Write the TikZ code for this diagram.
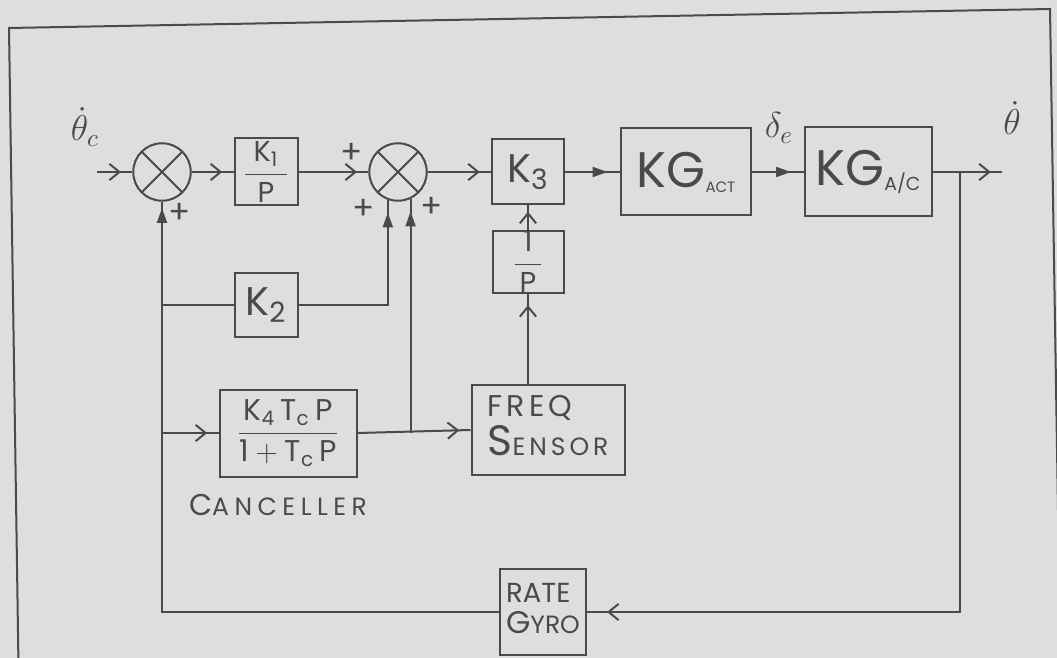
\documentclass[tikz,border=0pt]{standalone}
\usepackage{fontspec}
\setmainfont{Poppins}
\usetikzlibrary{arrows.meta,decorations.markings}
\definecolor{ink}{HTML}{4A4A4A}
\definecolor{paper}{HTML}{DEDEDE}
\begin{document}
\begin{tikzpicture}[x=0.4pt,y=-0.4pt,line width=.8pt,color=ink,
  blk/.style={draw,inner sep=0pt},
  sum/.style={circle,draw,minimum size=23pt,inner sep=0pt,
    path picture={\draw (path picture bounding box.north west) -- (path picture bounding box.south east)
      (path picture bounding box.north east) -- (path picture bounding box.south west);}},
  flow/.style={postaction={decorate},decoration={markings,
    mark=at position #1 with {\arrow{Straight Barb[length=4pt,width=6.5pt,line width=.8pt]}}}},
  flow/.default=-4.5pt,
  feed/.style={postaction={decorate},decoration={markings,
    mark=at position #1 with {\arrow{Triangle[length=6pt,width=4pt]}}}},
  feed/.default=-5pt,
  sgn/.style={inner sep=0pt,font=\fontsize{13}{13}\selectfont},
  sig/.style={inner sep=0pt,font=\fontsize{14}{14}\selectfont},
  lbl/.style={inner sep=0pt,align=left,font=\addfontfeature{LetterSpace=22}}]
\useasboundingbox (0,0) rectangle (1057,658);
\fill[paper] (0,0) rectangle (1057,658);
% sheet frame
\draw (19,700) -- (9,28) -- (1050,9) -- (1061,700);
% forward path
\coordinate (in) at (97,172);
\node[sum] (s1) at (162,172) {};
\node[blk,minimum width=25.2pt,minimum height=26.8pt,font=\fontsize{11.5}{12}\selectfont] (k1) at (266,172) {$\displaystyle\frac{\;\mathrm{K_1}\;}{\mathrm{P}}$};
\node[sum] (s2) at (398,172) {};
\node[blk,minimum width=28.8pt,minimum height=26pt,font=\fontsize{16}{18}\selectfont] (k3) at (528,172) {$\mathrm{K_3}$};
\node[blk,minimum width=52pt,minimum height=34.8pt,font=\fontsize{20}{22}\selectfont] (act) at (686,172) {KG\raisebox{-2pt}{\fontsize{6}{6}\selectfont ACT}};
\node[blk,minimum width=50.8pt,minimum height=35.6pt,font=\fontsize{20}{22}\selectfont] (ac) at (868,172) {KG\raisebox{-2pt}{\fontsize{7.5}{8}\selectfont A/C}};
\coordinate (br) at (960,172);
\coordinate (out) at (1002,172);
% inner loops
\node[blk,minimum width=28.4pt,minimum height=24.4pt,font=\fontsize{11.5}{12}\selectfont] (onep) at (528,262) {$\displaystyle\frac{\;\mathrm{1}\;}{\mathrm{P}}$};
\node[blk,minimum width=25.2pt,minimum height=25.6pt,font=\fontsize{16}{18}\selectfont] (k2) at (266,305) {$\mathrm{K_2}$};
\node[blk,minimum width=54.8pt,minimum height=34.8pt,font=\fontsize{12}{14}\selectfont] (canc) at (288,433) {$\displaystyle\frac{\mathrm{K_4\,T_c\,P}}{\mathrm{1+T_c\,P}}$};
\node[lbl] (cname) at (278,505) {{\fontsize{12}{13}\selectfont C}{\fontsize{10}{11}\selectfont ANCELLER}};
\node[blk,minimum width=61.2pt,minimum height=36pt] (freq) at (548,430) {\begin{tabular}{@{}l@{}}\addfontfeature{LetterSpace=14}\fontsize{12}{13}\selectfont FREQ\\[0pt]\addfontfeature{LetterSpace=16}{\fontsize{17}{17}\selectfont S}{\fontsize{10}{10}\selectfont ENSOR}\end{tabular}};
\node[blk,minimum width=34.4pt,minimum height=34.4pt] (gyro) at (543,612) {\begin{tabular}{@{}l@{}}\fontsize{11}{12}\selectfont RATE\\[0pt]{\fontsize{12.5}{13}\selectfont G}{\fontsize{10}{11}\selectfont YRO}\end{tabular}};
% signals
\node[sig] (thc) at (85,127) {$\dot\theta_c$};
\node[sig] (de) at (779,128) {$\delta_e$};
\node[sig] (th) at (1012,118) {$\dot\theta$};
\node[sgn] (p1) at (180,213) {+};
\node[sgn] (p2) at (352,153) {+};
\node[sgn] (p3) at (364,209) {+};
\node[sgn] (p4) at (432,207) {+};
% connectors
\draw[flow] (in) -- (s1.west);
\draw[flow] (s1.east) -- (k1.west);
\draw[flow] (k1.east) -- (s2.west);
\draw[flow] (s2.east) -- (k3.west);
\draw[feed] (k3.east) -- (act.west);
\draw[feed] (act.east) -- (ac.west);
\draw[flow] (ac.east) -- (out);
\draw[flow=-8pt] (br) |- (gyro.east);
\draw[feed=-2.5pt] (gyro.west) -| (s1.south);
\draw (k2.west -| s1) -- (k2.west);
\draw[feed] (k2.east) -| (s2.250);
\draw[flow] (canc.west -| s1) -- (canc.west);
\draw[flow] (canc.east) -- (freq.west);
\draw[feed] (canc.east -| s2.295) -- (s2.295);
\draw[flow] (freq.north -| onep) -- (onep.south);
\draw[flow=-2.5pt] (onep.north) -- (k3.south);
\end{tikzpicture}
\end{document}
